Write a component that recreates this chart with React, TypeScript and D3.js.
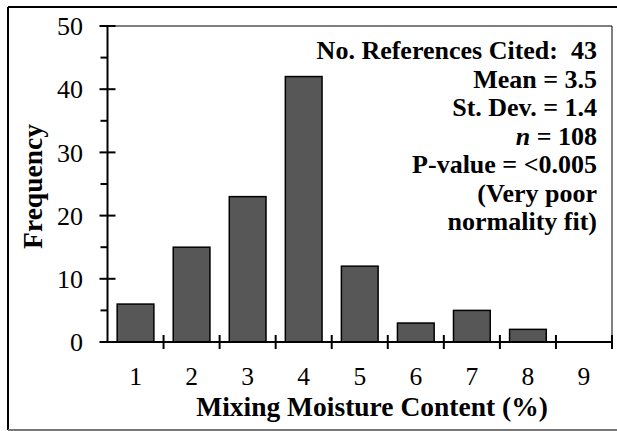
import React from "react";
import * as d3 from "d3";

const categories = ["1", "2", "3", "4", "5", "6", "7", "8", "9"];
const frequencies = [6, 15, 23, 42, 12, 3, 5, 2, 0];
const yMajorTicks = [0, 10, 20, 30, 40, 50];
const yMinorTicks = [5, 15, 25, 35, 45];
const statsLines = [
  "No. References Cited:  43",
  "Mean = 3.5",
  "St. Dev. = 1.4",
  "n = 108",
  "P-value = <0.005",
  "(Very poor",
  "normality fit)",
];

const W = 617;
const H = 431;
const plot = { left: 107.5, right: 612, top: 26, bottom: 342 };
const FONT = "'Liberation Serif', 'Times New Roman', serif";

export default function App() {
  const x = d3
    .scaleBand<string>()
    .domain(categories)
    .range([plot.left, plot.right])
    .paddingInner(0.345)
    .paddingOuter(0.1725);
  const step = x.step();
  const y = d3.scaleLinear().domain([0, 50]).range([plot.bottom, plot.top]);

  return (
    <svg
      width={W}
      height={H}
      style={{ position: "absolute", left: 0, top: 0, background: "#fff" }}
      fontFamily={FONT}
    >
      {/* outer frame */}
      <line x1={8} y1={7} x2={W} y2={7} stroke="#000" strokeWidth={2} />
      <line x1={8} y1={7} x2={8} y2={430} stroke="#000" strokeWidth={2} />
      <line x1={8} y1={430} x2={W} y2={430} stroke="#777" strokeWidth={2} />

      {/* plot frame */}
      <line x1={plot.left} y1={plot.top} x2={plot.right} y2={plot.top} stroke="#000" strokeWidth={1} />
      <line x1={plot.right} y1={plot.top} x2={plot.right} y2={plot.bottom} stroke="#000" strokeWidth={1} />

      {/* bars */}
      {frequencies.map((v, i) =>
        v > 0 ? (
          <rect
            key={categories[i]}
            x={x(categories[i])}
            y={y(v)}
            width={x.bandwidth()}
            height={y(0) - y(v)}
            fill="#575757"
            stroke="#000"
            strokeWidth={1.5}
          />
        ) : null
      )}

      {/* y axis */}
      <line x1={plot.left} y1={plot.top} x2={plot.left} y2={plot.bottom} stroke="#000" strokeWidth={2} />
      {yMajorTicks.map((t) => (
        <g key={t}>
          <line x1={plot.left - 8} x2={plot.left + 8} y1={y(t)} y2={y(t)} stroke="#000" strokeWidth={2} />
          <text x={83} y={y(t)} dy="0.35em" textAnchor="end" fontSize={26}>
            {t}
          </text>
        </g>
      ))}
      {yMinorTicks.map((t) => (
        <line key={t} x1={plot.left - 7} x2={plot.left} y1={y(t)} y2={y(t)} stroke="#000" strokeWidth={2} />
      ))}

      {/* x axis */}
      <line x1={plot.left} y1={plot.bottom} x2={plot.right} y2={plot.bottom} stroke="#000" strokeWidth={2} />
      {categories.map((c) => {
        const bx = (x(c) as number) - x.paddingOuter() * step + step;
        return (
          <line key={c} x1={bx} x2={bx} y1={plot.bottom - 7} y2={plot.bottom + 7} stroke="#000" strokeWidth={2} />
        );
      })}
      {categories.map((c) => (
        <text
          key={c}
          x={(x(c) as number) + x.bandwidth() / 2}
          y={385}
          textAnchor="middle"
          fontSize={25.5}
        >
          {c}
        </text>
      ))}

      {/* axis titles */}
      <text x={372} y={416} textAnchor="middle" fontSize={27.5} fontWeight="bold">
        Mixing Moisture Content (%)
      </text>
      <text
        transform="translate(42,186.5) rotate(-90)"
        textAnchor="middle"
        fontSize={27.5}
        fontWeight="bold"
      >
        Frequency
      </text>

      {/* summary statistics */}
      {statsLines.map((line, i) => (
        <text
          key={i}
          x={597}
          y={59 + i * 28.5}
          textAnchor="end"
          fontSize={26}
          fontWeight="bold"
          style={{ whiteSpace: "pre" }}
        >
          {line.startsWith("n ") ? (
            <>
              <tspan fontStyle="italic">n</tspan>
              {line.slice(1)}
            </>
          ) : (
            line
          )}
        </text>
      ))}
    </svg>
  );
}
